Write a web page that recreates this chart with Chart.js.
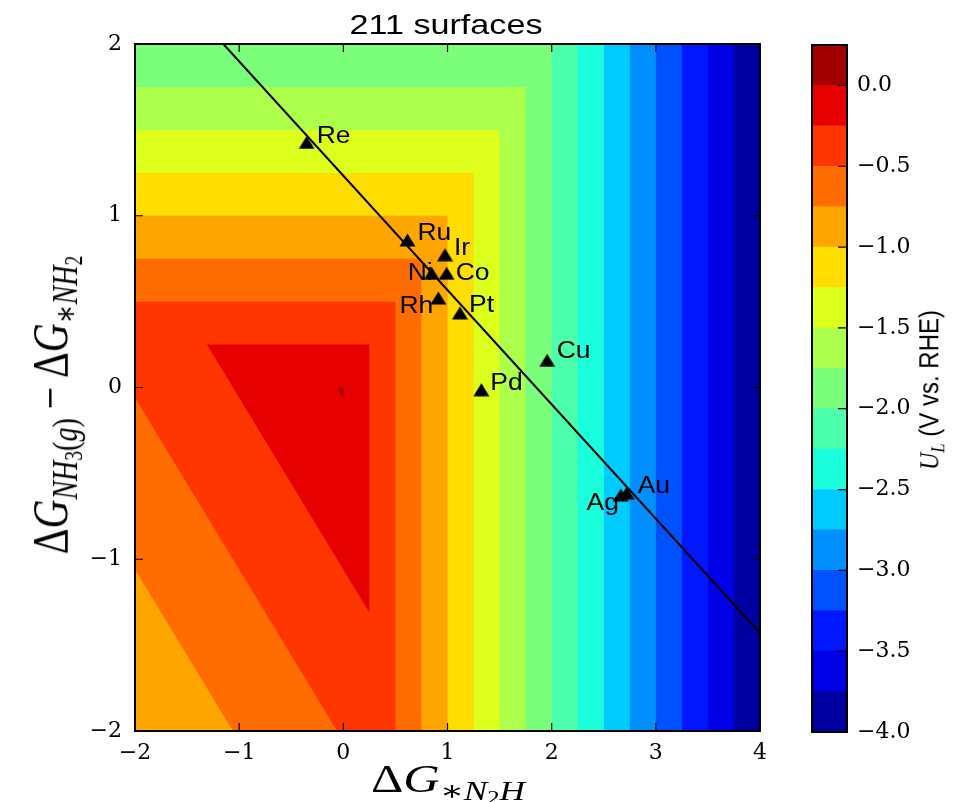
<!DOCTYPE html>
<html><head><meta charset="utf-8">
<script src="https://cdn.jsdelivr.net/npm/chart.js@4.4.0/dist/chart.umd.min.js"></script>
<style>
html,body{margin:0;padding:0;background:#fff;}
#wrap{position:relative;width:956px;height:802px;overflow:hidden;background:#fff;}
canvas{position:absolute;left:0;top:0;}
.lbl{position:absolute;white-space:nowrap;color:#000;line-height:1;}
.math{font-family:"Liberation Serif","DejaVu Serif",serif;}
.sub{font-size:70%;vertical-align:-0.28em;}
.sub2{font-size:70%;vertical-align:-0.2em;}
.sans{font-family:"Liberation Sans",Arial,sans-serif;}
</style></head><body>
<div id="wrap">
<canvas id="main" width="956" height="802"></canvas>
<canvas id="cbar" width="956" height="802"></canvas>
<div id="title" class="lbl sans" style="font-size:28px;left:446px;top:11px;transform:translateX(-50%) scaleX(1.22);">211 surfaces</div>
<div id="xlab" class="lbl math" style="font-size:40px;left:448px;top:759px;transform:translateX(-50%) scaleX(1.26);">Δ<i>G</i><span class="sub">∗<i>N</i><span class="sub2">2</span><i>H</i></span></div>
<div id="ylab" class="lbl math" style="font-size:40px;left:56px;top:405px;transform:translate(-50%,-50%) rotate(-90deg) scaleY(1.25);">Δ<i>G</i><span class="sub"><i>NH</i><span class="sub2">3</span>(<i>g</i>)</span><span style="margin:0 0.22em">−</span>Δ<i>G</i><span class="sub">∗<i>NH</i><span class="sub2">2</span></span></div>
<div id="clab" class="lbl" style="font-size:24px;left:932px;top:390px;transform:translate(-50%,-50%) rotate(-90deg) scaleY(1.15);"><span class="math"><i>U</i><span class="sub"><i>L</i></span></span><span class="sans"> (V vs. RHE)</span></div>
</div>
<script>
// ---------------- data ----------------
const contourLevels = [-4.0,-3.75,-3.5,-3.25,-3.0,-2.75,-2.5,-2.25,-2.0,-1.75,-1.5,-1.25,-1.0,-0.75,-0.5,-0.25,0.0,0.25];
// U_L = -max(dG_N2H, dG_NH3-dG_NH2, -(dG_N2H + dG_NH3-dG_NH2 + diagOffset)/diagSlope)
const diagSlope = 4.0;
const diagOffset = 0.06;

const metals = ['Re','Ru','Ir','Ni','Co','Rh','Pt','Pd','Cu','Au','Ag'];
const dG_N2H = [-0.352, 0.616, 0.976, 0.848, 0.992, 0.912, 1.12, 1.325, 1.957, 2.72, 2.665];
const dG_NH  = [1.4265, 0.859, 0.773, 0.665, 0.665, 0.521, 0.434, -0.013, 0.158, -0.615, -0.626];

const scalingLineX = [-1.152, 4.0];
const scalingLineY = [2.0, -1.43];

const xTicks = [-2,-1,0,1,2,3,4];
const yTicks = [-2,-1,0,1,2];
const cbarTicks = [-4.0,-3.5,-3.0,-2.5,-2.0,-1.5,-1.0,-0.5,0.0];

// ---------------- styles ----------------
const labelPos = { // dx, dy (px from marker), align
  Re:[10,1,'left'], Ru:[10,0,'left'], Ir:[9,0,'left'], Ni:[1,7,'right'], Co:[9,7,'left'],
  Rh:[-5,15,'right'], Pt:[9,-1,'left'], Pd:[9,0,'left'], Cu:[9.5,-2,'left'], Au:[11,0,'left'], Ag:[-2,15,'right']
};

const JET = {
  r: [[0,0],[0.35,0],[0.66,1],[0.89,1],[1,0.5]],
  g: [[0,0],[0.125,0],[0.375,1],[0.64,1],[0.91,0],[1,0]],
  b: [[0,0.5],[0.11,1],[0.34,1],[0.65,0],[1,0]]
};
function seg(s, v){ for(let i=1;i<s.length;i++){ if(v<=s[i][0]){ const [x0,y0]=s[i-1],[x1,y1]=s[i]; return y0+(y1-y0)*(v-x0)/(x1-x0);} } return s[s.length-1][1]; }
function jet(v){ return 'rgb('+Math.round(255*seg(JET.r,v))+','+Math.round(255*seg(JET.g,v))+','+Math.round(255*seg(JET.b,v))+')'; }
const lo = contourLevels[0], hi = contourLevels[contourLevels.length-1];
const bandColors = [];
for(let i=0;i<contourLevels.length-1;i++){
  const mid = (contourLevels[i]+contourLevels[i+1])/2;
  bandColors.push(jet((mid-lo)/(hi-lo)));
}
const fmt = v => (v<0?'\u2212':'') + Math.abs(v);
const fmt1 = v => (v<0?'\u2212':'') + Math.abs(v).toFixed(1);

// contour regions (painter's order): region {max(...) <= b} with b = -level
const contourSets = [];
for(let i=0;i<contourLevels.length-1;i++){
  const b = -contourLevels[i];
  const d = -diagSlope*b - diagOffset - b;
  if (d >= b) continue;
  contourSets.push({
    type:'scatter', showLine:true, fill:'shape', tension:0,
    data:[{x:b,y:b},{x:b,y:d},{x:d,y:b},{x:b,y:b}],
    backgroundColor: bandColors[i], borderColor:'rgba(0,0,0,0)', borderWidth:0,
    pointRadius:0, order: 100 - i
  });
}

// triangle marker image
const tri = document.createElement('canvas');
tri.width = 17; tri.height = 14;
(function(){ const c = tri.getContext('2d'); c.fillStyle='#000'; c.beginPath(); c.moveTo(8.5,0.5); c.lineTo(16.5,13.5); c.lineTo(0.5,13.5); c.closePath(); c.fill(); })();

const framePlugin = {
  id:'frameTicks',
  afterDatasetsDraw(chart){
    const {ctx, chartArea:a, scales:{x,y}} = chart;
    ctx.save();
    ctx.strokeStyle='#000'; ctx.lineWidth=1.2;
    ctx.beginPath();
    xTicks.forEach(v=>{ const px=x.getPixelForValue(v); ctx.moveTo(px,a.bottom); ctx.lineTo(px,a.bottom-8); ctx.moveTo(px,a.top); ctx.lineTo(px,a.top+8); });
    yTicks.forEach(v=>{ const py=y.getPixelForValue(v); ctx.moveTo(a.left,py); ctx.lineTo(a.left+8,py); ctx.moveTo(a.right,py); ctx.lineTo(a.right-8,py); });
    ctx.stroke();
    ctx.lineWidth=2;
    ctx.strokeRect(a.left, a.top, a.right-a.left, a.bottom-a.top);
    // point labels
    ctx.fillStyle='#000';
    ctx.font='23px "Liberation Sans", Arial, sans-serif';
    ctx.textBaseline='alphabetic';
    metals.forEach((m,i)=>{
      const p = labelPos[m];
      const px = x.getPixelForValue(dG_N2H[i]), py = y.getPixelForValue(dG_NH[i]);
      ctx.save(); ctx.translate(px+p[0], py+p[1]); ctx.scale(1.15,1); ctx.textAlign=p[2]; ctx.fillText(m,0,0); ctx.restore();
    });
    ctx.restore();
  }
};

new Chart(document.getElementById('main'), {
  type:'scatter',
  data:{ datasets:[
    { data: metals.map((m,i)=>({x:dG_N2H[i], y:dG_NH[i]})), pointStyle: tri, pointRadius:8, showLine:false, order:0, backgroundColor:'#000', borderColor:'#000' },
    { data: scalingLineX.map((v,i)=>({x:v, y:scalingLineY[i]})), showLine:true, borderColor:'#000', borderWidth:2, pointRadius:0, order:1, fill:false },
    ...contourSets
  ]},
  options:{
    responsive:false, animation:false, devicePixelRatio:1,
    layout:{ padding:{ left:20, right:196, top:44, bottom:0 } },
    plugins:{ legend:{display:false}, tooltip:{enabled:false}, title:{display:false} },
    scales:{
      x:{ type:'linear', min:-2, max:4,
        afterBuildTicks: s => { s.ticks = xTicks.map(v=>({value:v})); },
        afterFit: s => { s.height = 71; },
        grid:{ display:false, drawTicks:false }, border:{display:false},
        ticks:{ callback: fmt, color:'#000', padding:9, font:{ family:'"DejaVu Serif", serif', size:22 }, maxRotation:0 } },
      y:{ type:'linear', min:-2, max:2,
        afterBuildTicks: s => { s.ticks = yTicks.map(v=>({value:v})); },
        afterFit: s => { s.width = 115; },
        grid:{ display:false, drawTicks:false }, border:{display:false},
        ticks:{ callback: fmt, color:'#000', padding:13, font:{ family:'"DejaVu Serif", serif', size:22 } } }
    }
  },
  plugins:[framePlugin]
});

// ---------------- colorbar ----------------
const cbFrame = {
  id:'cbFrame',
  afterDatasetsDraw(chart){
    const {ctx, chartArea:a, scales:{y}} = chart;
    ctx.save();
    ctx.strokeStyle='#000'; ctx.lineWidth=1.2; ctx.beginPath();
    cbarTicks.forEach(v=>{ const py=y.getPixelForValue(v); ctx.moveTo(a.right,py); ctx.lineTo(a.right-9,py); });
    ctx.stroke();
    ctx.lineWidth=2; ctx.strokeRect(a.left,a.top,a.right-a.left,a.bottom-a.top);
    ctx.restore();
  }
};
new Chart(document.getElementById('cbar'), {
  type:'bar',
  data:{ labels:[''], datasets: bandColors.map((c,i)=>({ data:[[contourLevels[i], contourLevels[i+1]]], backgroundColor:c, borderWidth:0, barPercentage:1, categoryPercentage:1, grouped:false })) },
  options:{
    responsive:false, animation:false, devicePixelRatio:1,
    layout:{ padding:{ left:812, right:9, top:45, bottom:70 } },
    plugins:{ legend:{display:false}, tooltip:{enabled:false} },
    scales:{
      x:{ display:false },
      y:{ position:'right', type:'linear', min:contourLevels[0], max:contourLevels[contourLevels.length-1],
        afterBuildTicks: s => { s.ticks = cbarTicks.map(v=>({value:v})); },
        afterFit: s => { s.width = 100; },
        grid:{ display:false, drawTicks:false }, border:{display:false},
        ticks:{ callback: fmt1, color:'#000', padding:10, font:{ family:'"DejaVu Serif", serif', size:22 } } }
    }
  },
  plugins:[cbFrame]
});
</script>
</body></html>
